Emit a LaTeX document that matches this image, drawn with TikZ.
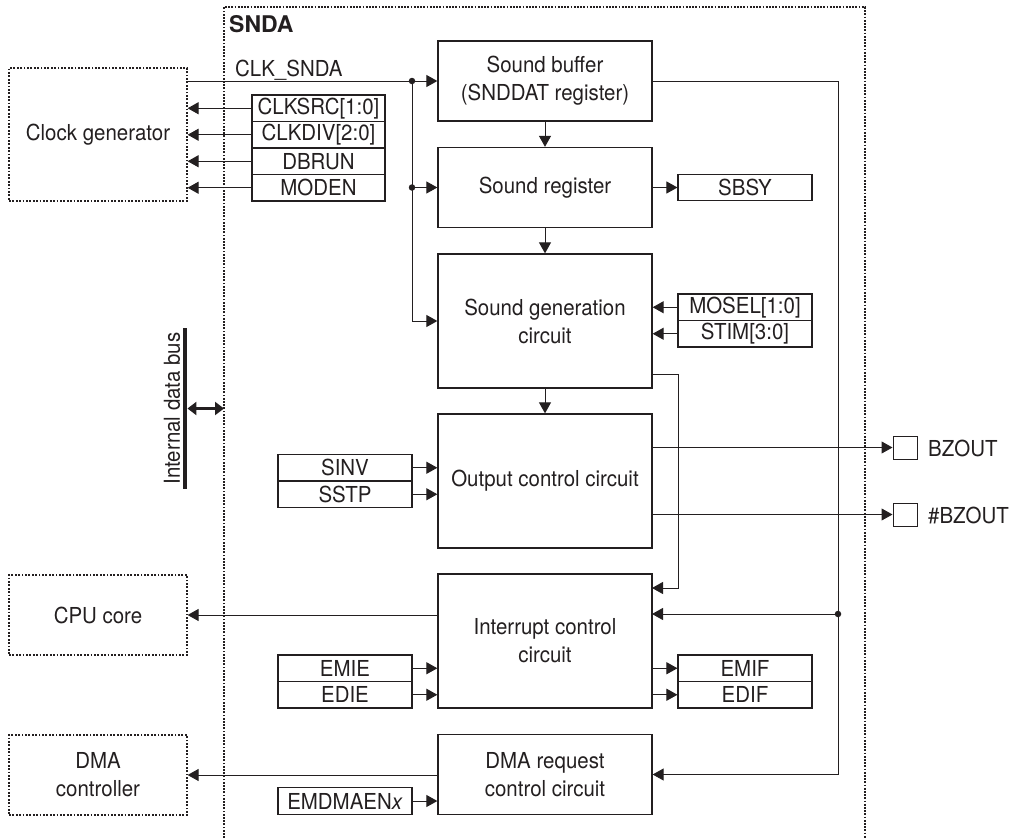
\documentclass[tikz,border=0pt]{standalone}
\usepackage{fontspec}
\setmainfont{TeX Gyre Heros}[FakeStretch=0.93]
\newfontfamily\sndafont{TeX Gyre Heros}
\usetikzlibrary{arrows.meta,calc}
\definecolor{ink}{HTML}{231F20}
\begin{document}
\begin{tikzpicture}[x=1pt,y=-1pt,
  font=\fontsize{22}{28}\selectfont,
  every node/.style={text=ink},
  blk/.style={draw=ink, line width=1.3pt, inner sep=0pt, align=center},
  reg/.style={draw=ink, line width=1.1pt, inner sep=0pt, minimum height=26.5pt},
  ext/.style={draw=ink, line width=1.2pt, dash pattern=on 1.8pt off 1.6pt, inner sep=0pt, align=center},
  conn/.style={draw=ink, line width=1pt},
  arr/.style={conn, -{Triangle[length=11pt,width=12pt]}},
  jdot/.style={circle, fill=ink, inner sep=0pt, minimum size=6.5pt},
  pin/.style={draw=ink, line width=1pt, inner sep=0pt, minimum width=24pt, minimum height=23pt}]
\useasboundingbox (0,0) rectangle (1018,838);

% SNDA boundary
\coordinate (sndaL) at (224,0);
\draw[ink, line width=2.6pt, dash pattern=on 1.8pt off 1.4pt] (224,838) -- (224,7) -- (865,7) -- (865,838);
\node[anchor=west, font=\sndafont\fontsize{23}{26}\bfseries\selectfont, inner sep=0pt] (sndalbl) at (229,24) {SNDA};

% external blocks
\node[ext, minimum width=178pt, minimum height=133pt] (clk) at (98,134.5) {Clock generator};
\node[ext, minimum width=178pt, minimum height=80pt] (cpu) at (98,615) {CPU core};
\node[ext, minimum width=178pt, minimum height=80pt] (dma) at (98,775) {DMA\\controller};

% main blocks
\node[blk, minimum width=214pt, minimum height=80pt] (buf) at (545,81) {Sound buffer\\(SNDDAT register)};
\node[blk, minimum width=214pt, minimum height=80pt] (sreg) at (545,187.5) {Sound register};
\node[blk, minimum width=214pt, minimum height=134pt] (sgen) at (545,321) {Sound generation\\circuit};
\node[blk, minimum width=214pt, minimum height=134pt] (outc) at (545,481) {Output control circuit};
\node[blk, minimum width=214pt, minimum height=134pt] (intc) at (545,641) {Interrupt control\\circuit};
\node[blk, minimum width=214pt, minimum height=80pt] (dmar) at (545,774.5) {DMA request\\control circuit};

% register boxes
\node[reg, minimum width=133pt] (clksrc) at (318.5,108.25) {CLKSRC[1:0]};
\node[reg, minimum width=133pt] (clkdiv) at (318.5,134.75) {CLKDIV[2:0]};
\node[reg, minimum width=133pt] (dbrun) at (318.5,161.25) {DBRUN};
\node[reg, minimum width=133pt] (moden) at (318.5,187.75) {MODEN};
\node[reg, minimum width=134pt] (sbsy) at (745,187.5) {SBSY};
\node[reg, minimum width=134pt] (mosel) at (745,307.25) {MOSEL[1:0]};
\node[reg, minimum width=134pt] (stim) at (745,333.75) {STIM[3:0]};
\node[reg, minimum width=134pt] (sinv) at (345,467.75) {SINV};
\node[reg, minimum width=134pt] (sstp) at (345,494.25) {SSTP};
\node[reg, minimum width=134pt] (emie) at (345,668.25) {EMIE};
\node[reg, minimum width=134pt] (edie) at (345,694.75) {EDIE};
\node[reg, minimum width=134pt] (emif) at (745,668.25) {EMIF};
\node[reg, minimum width=134pt] (edif) at (745,694.75) {EDIF};
\node[reg, minimum width=134pt] (emdma) at (345,801) {EMDMAEN\textit{x}};

% pins
\node[pin] (bz) at (905,447.5) {};
\node[pin] (nbz) at (905,514.5) {};
\node[anchor=west, inner sep=0pt] (bzl) at (928,448) {BZOUT};
\node[anchor=west, inner sep=0pt] (nbzl) at (928,515) {\#BZOUT};

% internal data bus
\node[fill=ink, minimum width=4.5pt, minimum height=161pt, inner sep=0pt] (bus) at (185,408.5) {};
\node[rotate=90, inner sep=0pt] (buslbl) at (172,408.5) {Internal data bus};
\draw[ink, line width=3pt, {Triangle[length=9pt,width=13pt]}-{Triangle[length=9pt,width=13pt]}] (bus.east) -- (bus.east -| sndaL);

% clock line
\coordinate (cx) at (412,0);
\node[anchor=base west, inner sep=0pt] (clklbl) at (235,76) {CLK\_SNDA};
\draw[arr] (clk.east |- buf.west) -- (buf.west);
\draw[arr] (cx |- buf.west) -- (cx |- sgen.west) -- (sgen.west);
\draw[arr] (cx |- sreg.west) -- (sreg.west);
\node[jdot] (j1) at (cx |- buf.west) {};
\node[jdot] (j2) at (cx |- sreg.west) {};

% registers to clock generator
\foreach \r in {clksrc,clkdiv,dbrun,moden}
  \draw[arr] (\r.west) -- (\r.west -| clk.east);

% vertical flow
\draw[arr] (buf.south) -- (sreg.north);
\draw[arr] (sreg.south) -- (sgen.north);
\draw[arr] (sgen.south) -- (outc.north);
\draw[arr] (sreg.east |- sbsy.west) -- (sbsy.west);
\draw[arr] (mosel.west) -- (mosel.west -| sgen.east);
\draw[arr] (stim.west) -- (stim.west -| sgen.east);
\draw[arr] (sinv.east) -- (sinv.east -| outc.west);
\draw[arr] (sstp.east) -- (sstp.east -| outc.west);

% outputs
\draw[arr] (outc.east |- bz.west) -- (bz.west);
\draw[arr] (outc.east |- nbz.west) -- (nbz.west);

% sound generation to interrupt
\coordinate (mx) at (678,0);
\coordinate (ip1) at (652,588);
\coordinate (ip2) at (652,614);
\coordinate (sg) at (652,374);
\draw[arr] (sg) -- (sg -| mx) -- (mx |- ip1) -- (ip1);

% sound buffer to interrupt / DMA
\coordinate (rx) at (838,0);
\draw[arr] (buf.east) -- (buf.east -| rx) -- (rx |- dmar.east) -- (dmar.east);
\draw[arr] (rx |- ip2) -- (ip2);
\node[jdot] (j3) at (rx |- ip2) {};

% interrupt
\draw[arr] (intc.west |- cpu.east) -- (cpu.east);
\draw[arr] (emie.east) -- (emie.east -| intc.west);
\draw[arr] (edie.east) -- (edie.east -| intc.west);
\draw[arr] (intc.east |- emif.west) -- (emif.west);
\draw[arr] (intc.east |- edif.west) -- (edif.west);

% DMA
\draw[arr] (dmar.west |- dma.east) -- (dma.east);
\draw[arr] (emdma.east) -- (emdma.east -| dmar.west);
\end{tikzpicture}
\end{document}
